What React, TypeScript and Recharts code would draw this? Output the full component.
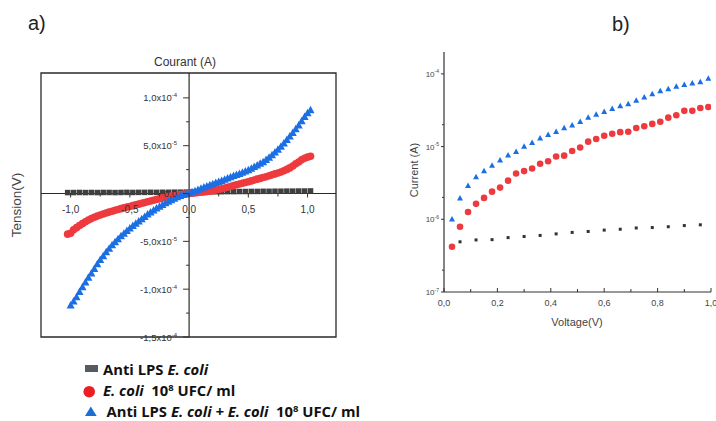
import React from 'react';
import { ScatterChart, Scatter, XAxis, YAxis, ReferenceLine, ReferenceArea } from 'recharts';

// ---------------- Panel a) : I-V sweep (values of current in units of 1e-5 A) ----------------
const sweepV = [
  -1.025, -1, -0.975, -0.95, -0.925, -0.9, -0.875, -0.85, -0.825, -0.8,
  -0.775, -0.75, -0.725, -0.7, -0.675, -0.65, -0.625, -0.6, -0.575, -0.55,
  -0.525, -0.5, -0.475, -0.45, -0.425, -0.4, -0.375, -0.35, -0.325, -0.3,
  -0.275, -0.25, -0.225, -0.2, -0.175, -0.15, -0.125, -0.1, -0.075, -0.05,
  -0.025, 0, 0.025, 0.05, 0.075, 0.1, 0.125, 0.15, 0.175, 0.2,
  0.225, 0.25, 0.275, 0.3, 0.325, 0.35, 0.375, 0.4, 0.425, 0.45,
  0.475, 0.5, 0.525, 0.55, 0.575, 0.6, 0.625, 0.65, 0.675, 0.7,
  0.725, 0.75, 0.775, 0.8, 0.825, 0.85, 0.875, 0.9, 0.925, 0.95,
  0.975, 1, 1.025,
];
const redSweep = [
  -4.25, -4.15, -3.8, -3.57, -3.35, -3.15, -2.95, -2.78, -2.62, -2.48,
  -2.36, -2.25, -2.14, -2.04, -1.94, -1.85, -1.76, -1.67, -1.58, -1.5,
  -1.42, -1.35, -1.27, -1.19, -1.11, -1.03, -0.95, -0.86, -0.78, -0.7,
  -0.62, -0.54, -0.46, -0.39, -0.32, -0.26, -0.2, -0.15, -0.11, -0.07,
  -0.03, 0, 0.03, 0.06, 0.1, 0.13, 0.17, 0.2, 0.25, 0.3,
  0.36, 0.42, 0.5, 0.58, 0.66, 0.74, 0.83, 0.91, 1.0, 1.08,
  1.15, 1.23, 1.32, 1.42, 1.5, 1.58, 1.67, 1.76, 1.86, 1.95,
  2.05, 2.15, 2.25, 2.38, 2.52, 2.68, 2.88, 3.1, 3.3, 3.52,
  3.68, 3.8, 3.9,
];
const blueSweep = [
  null, -11.7, -11.3, -10.85, -10.3, -9.8, -9.3, -8.8, -8.35, -7.9,
  -7.4, -6.95, -6.55, -6.15, -5.78, -5.42, -5.1, -4.78, -4.48, -4.2,
  -3.92, -3.66, -3.4, -3.16, -2.92, -2.68, -2.45, -2.2, -1.98, -1.77,
  -1.57, -1.38, -1.2, -1.02, -0.85, -0.7, -0.55, -0.4, -0.27, -0.16,
  -0.07, 0.02, 0.12, 0.25, 0.37, 0.5, 0.62, 0.74, 0.86, 0.98,
  1.1, 1.2, 1.32, 1.45, 1.58, 1.7, 1.82, 1.93, 2.05, 2.18,
  2.3, 2.44, 2.6, 2.76, 2.93, 3.1, 3.28, 3.5, 3.74, 4.0,
  4.28, 4.58, 4.9, 5.24, 5.6, 5.96, 6.33, 6.72, 7.12, 7.55,
  8.0, 8.4, 8.7,
];
const blackSweepV = [
  -1.025, -0.975, -0.925, -0.875, -0.825, -0.775, -0.725, -0.675, -0.625, -0.575,
  -0.525, -0.475, -0.425, -0.375, -0.325, -0.275, -0.225, -0.175, -0.125, -0.075,
  -0.025, 0.025, 0.075, 0.125, 0.175, 0.225, 0.275, 0.325, 0.375, 0.425,
  0.475, 0.525, 0.575, 0.625, 0.675, 0.725, 0.775, 0.825, 0.875, 0.925,
  0.975, 1.025,
];
const blackSweep = [
  0.1, 0.1, 0.11, 0.1, 0.11, 0.1, 0.11, 0.11, 0.1, 0.11,
  0.12, 0.11, 0.12, 0.12, 0.13, 0.12, 0.13, 0.13, 0.14, 0.14,
  0.15, 0.16, 0.17, 0.17, 0.18, 0.18, 0.19, 0.2, 0.2, 0.21,
  0.21, 0.22, 0.22, 0.23, 0.23, 0.24, 0.24, 0.25, 0.25, 0.26,
  0.26, 0.27,
];
const xTicksA = [-1, -0.75, -0.5, -0.25, 0, 0.25, 0.5, 0.75, 1];
const yTicksA = [-1.5e-4, -1.25e-4, -1e-4, -7.5e-5, -5e-5, -2.5e-5, 0, 2.5e-5, 5e-5, 7.5e-5, 1e-4];

// ---------------- Panel b) : log current vs voltage ----------------
const voltsB = [
  0.03, 0.06, 0.09, 0.12, 0.15, 0.18, 0.21, 0.24, 0.27, 0.3,
  0.33, 0.36, 0.39, 0.42, 0.45, 0.48, 0.51, 0.54, 0.57, 0.6,
  0.63, 0.66, 0.69, 0.72, 0.75, 0.78, 0.81, 0.84, 0.87, 0.9,
  0.93, 0.96, 0.99,
];
const blueB = [
  1.0e-6, 1.95e-6, 2.9e-6, 3.8e-6, 4.6e-6, 5.5e-6, 6.5e-6, 7.6e-6, 8.5e-6, 1.0e-5,
  1.13e-5, 1.3e-5, 1.45e-5, 1.6e-5, 1.8e-5, 1.97e-5, 2.2e-5, 2.5e-5, 2.75e-5, 3.0e-5,
  3.3e-5, 3.6e-5, 3.85e-5, 4.3e-5, 4.75e-5, 5.3e-5, 5.8e-5, 6.2e-5, 6.7e-5, 7.1e-5,
  7.4e-5, 7.7e-5, 8.6e-5,
];
const redB = [
  4.2e-7, 7.9e-7, 1.26e-6, 1.63e-6, 1.97e-6, 2.4e-6, 2.73e-6, 3.4e-6, 4.27e-6, 4.6e-6,
  5.0e-6, 5.8e-6, 6.3e-6, 7.3e-6, 7.5e-6, 8.7e-6, 9.7e-6, 1.17e-5, 1.27e-5, 1.41e-5,
  1.5e-5, 1.58e-5, 1.6e-5, 1.8e-5, 1.9e-5, 2.05e-5, 2.2e-5, 2.5e-5, 2.7e-5, 3.1e-5,
  3.1e-5, 3.4e-5, 3.5e-5,
];
const blackVoltsB = [0.06, 0.12, 0.18, 0.24, 0.3, 0.36, 0.42, 0.48, 0.54, 0.6, 0.66, 0.72, 0.78, 0.84, 0.9, 0.96];
const blackB = [4.9e-7, 5.2e-7, 5.25e-7, 5.6e-7, 5.8e-7, 6.0e-7, 6.3e-7, 6.6e-7, 6.8e-7, 7.1e-7, 7.3e-7, 7.6e-7, 7.7e-7, 7.9e-7, 8.2e-7, 8.4e-7];
const xTicksB = [0, 0.1, 0.2, 0.3, 0.4, 0.5, 0.6, 0.7, 0.8, 0.9, 1];
const yTicksB = [1e-7, 2e-7, 1e-6, 2e-6, 1e-5, 2e-5, 1e-4];

// ---------------- layout ----------------
const FONT = '"Liberation Sans", Arial, sans-serif';
const BLUE = '#1c6fe3';
const RED = '#ee3a3e';
const DARK = '#3f3f3f';
const AX = 20; // reserved axis size

const A_LEFT = 41, A_RIGHT = 336, A_TOP = 73, A_BOTTOM = 337;
const A_XMIN = -1.25, A_XMAX = 1.24, A_YMIN = -1.5e-4, A_YMAX = 1.26e-4;
const A_ZERO_X = A_LEFT + ((A_RIGHT - A_LEFT) * (0 - A_XMIN)) / (A_XMAX - A_XMIN);
const A_ZERO_Y = A_TOP + ((A_BOTTOM - A_TOP) * A_YMAX) / (A_YMAX - A_YMIN);

const B_OFFSET = 380, B_LEFT = 444, B_RIGHT = 711, B_TOP = 52, B_BOTTOM = 292;

const dataRedA = sweepV.map((v, k) => ({ v, i: redSweep[k] * 1e-5 }));
const dataBlueA = sweepV
  .map((v, k) => ({ v, i: blueSweep[k] === null ? null : (blueSweep[k] as number) * 1e-5 }))
  .filter((d) => d.i !== null);
const dataBlackA = blackSweepV.map((v, k) => ({ v, i: blackSweep[k] * 1e-5 }));
const dataBlueB = voltsB.map((v, k) => ({ v, i: blueB[k] }));
const dataRedB = voltsB.map((v, k) => ({ v, i: redB[k] }));
const dataBlackB = blackVoltsB.map((v, k) => ({ v, i: blackB[k] }));

const comma = (n: number) => n.toFixed(1).replace('.', ',');

// ---------------- shapes ----------------
const squareShape = (size: number, color: string) => (p: any) => (
  <rect x={p.cx - size / 2} y={p.cy - size / 2} width={size} height={size} fill={color} />
);
const circleShape = (r: number, color: string) => (p: any) => <circle cx={p.cx} cy={p.cy} r={r} fill={color} />;
const triangleShape = (w: number, h: number, color: string) => (p: any) => (
  <polygon
    points={`${p.cx},${p.cy - h * 0.6} ${p.cx - w / 2},${p.cy + h * 0.4} ${p.cx + w / 2},${p.cy + h * 0.4}`}
    fill={color}
  />
);

// ---------------- ticks ----------------
const AXTick = (props: any) => {
  const { x, payload } = props;
  const v = payload.value as number;
  const major = Math.abs(v * 2 - Math.round(v * 2)) < 1e-6;
  return (
    <g>
      <line x1={x} x2={x} y1={A_ZERO_Y} y2={A_ZERO_Y + (major ? 4 : 3)} stroke="#333" strokeWidth={1} />
      {major && (
        <text x={x} y={A_ZERO_Y + 19} textAnchor="middle" fontSize={10} fontFamily={FONT} fill="#333">
          {comma(v)}
        </text>
      )}
    </g>
  );
};

const AYTick = (props: any) => {
  const { y, payload } = props;
  const v = payload.value as number;
  const major = Math.abs(v / 5e-5 - Math.round(v / 5e-5)) < 1e-6;
  let label: React.ReactNode = null;
  if (major) {
    if (Math.abs(v) < 1e-12) {
      label = '0,0';
    } else {
      const exp = Math.floor(Math.log10(Math.abs(v)) + 1e-9);
      const mant = v / Math.pow(10, exp);
      label = (
        <>
          {`${comma(mant)}x10`}
          <tspan dy={-4} fontSize={6}>{`${exp}`}</tspan>
        </>
      );
    }
  }
  return (
    <g>
      <line x1={A_ZERO_X - (major ? 6 : 3)} x2={A_ZERO_X} y1={y} y2={y} stroke="#333" strokeWidth={1} />
      {major && (
        <text x={A_ZERO_X - 12} y={y + 3.5} textAnchor="end" fontSize={9.5} fontFamily={FONT} fill="#333">
          {label}
        </text>
      )}
    </g>
  );
};

const BXTick = (props: any) => {
  const { x, payload } = props;
  const v = payload.value as number;
  const major = Math.abs(v * 5 - Math.round(v * 5)) < 1e-6;
  const yb = B_BOTTOM;
  return (
    <g>
      <line x1={x} x2={x} y1={yb} y2={yb - (major ? 4 : 3)} stroke="#333" strokeWidth={1} />
      {major && (
        <text x={x} y={yb + 14} textAnchor="middle" fontSize={9} fontFamily={FONT} fill="#444">
          {comma(v)}
        </text>
      )}
    </g>
  );
};

const BYTick = (props: any) => {
  const { y, payload } = props;
  const v = payload.value as number;
  const lg = Math.log10(v);
  const exp = Math.round(lg);
  const major = Math.abs(lg - exp) < 1e-6;
  const x0 = B_LEFT - B_OFFSET;
  return (
    <g>
      <line x1={x0 - (major ? 3 : 2)} x2={x0} y1={y} y2={y} stroke="#333" strokeWidth={1} />
      {major && (
        <text x={x0 - 5} y={y + 3} textAnchor="end" fontSize={8} fontFamily={FONT} fill="#444">
          10
          <tspan dy={-3.5} fontSize={5}>{`${exp}`}</tspan>
        </text>
      )}
    </g>
  );
};

export default function App() {
  return (
    <div style={{ position: 'absolute', left: 0, top: 0, width: 716, height: 421, background: '#fff', overflow: 'hidden' }}>
      {/* Panel a */}
      <div style={{ position: 'absolute', left: 0, top: 0 }}>
        <ScatterChart
          width={360}
          height={421}
          margin={{ left: A_LEFT - AX, top: A_TOP, right: 360 - A_RIGHT, bottom: 421 - A_BOTTOM - AX }}
        >
          <XAxis
            type="number"
            dataKey="v"
            domain={[A_XMIN, A_XMAX]}
            ticks={xTicksA}
            interval={0}
            height={AX}
            axisLine={false}
            tickLine={false}
            tick={<AXTick />}
            allowDataOverflow
          />
          <YAxis
            type="number"
            dataKey="i"
            domain={[A_YMIN, A_YMAX]}
            ticks={yTicksA}
            interval={0}
            width={AX}
            axisLine={false}
            tickLine={false}
            tick={<AYTick />}
            allowDataOverflow
          />
          <ReferenceArea
            x1={A_XMIN}
            x2={A_XMAX}
            y1={A_YMIN}
            y2={A_YMAX}
            fill="none"
            fillOpacity={0}
            stroke="#2a2a2a"
            strokeWidth={1.3}
            ifOverflow="visible"
          />
          <ReferenceLine x={0} stroke="#2a2a2a" strokeWidth={1.2} />
          <ReferenceLine y={0} stroke="#2a2a2a" strokeWidth={1.2} />
          <Scatter name="Anti LPS E. coli" data={dataBlackA} shape={squareShape(5.5, DARK)} isAnimationActive={false} />
          <Scatter name="E. coli 10^8 UFC/ ml" data={dataRedA} shape={circleShape(3.8, RED)} isAnimationActive={false} />
          <Scatter
            name="Anti LPS E. coli + E. coli 10^8 UFC/ ml"
            data={dataBlueA}
            shape={triangleShape(8, 7.5, BLUE)}
            isAnimationActive={false}
          />
        </ScatterChart>
      </div>

      {/* Panel b */}
      <div style={{ position: 'absolute', left: B_OFFSET, top: 0 }}>
        <ScatterChart
          width={716 - B_OFFSET}
          height={421}
          margin={{ left: B_LEFT - B_OFFSET - AX, top: B_TOP, right: 716 - B_RIGHT, bottom: 421 - B_BOTTOM - AX }}
        >
          <XAxis
            type="number"
            dataKey="v"
            domain={[0, 1]}
            ticks={xTicksB}
            interval={0}
            height={AX}
            axisLine={{ stroke: '#333', strokeWidth: 1.2 }}
            tickLine={false}
            tick={<BXTick />}
            allowDataOverflow
          />
          <YAxis
            type="number"
            dataKey="i"
            scale="log"
            domain={[1e-7, 2e-4]}
            ticks={yTicksB}
            interval={0}
            width={AX}
            axisLine={{ stroke: '#333', strokeWidth: 1.2 }}
            tickLine={false}
            tick={<BYTick />}
            allowDataOverflow
          />
          <Scatter name="Anti LPS E. coli" data={dataBlackB} shape={squareShape(3, '#333')} isAnimationActive={false} />
          <Scatter name="E. coli" data={dataRedB} shape={circleShape(3.3, RED)} isAnimationActive={false} />
          <Scatter name="Anti LPS E. coli + E. coli" data={dataBlueB} shape={triangleShape(6, 5.5, BLUE)} isAnimationActive={false} />
        </ScatterChart>
      </div>

      {/* Titles and legend */}
      <svg width={716} height={421} style={{ position: 'absolute', left: 0, top: 0, pointerEvents: 'none' }}>
        <g fontFamily={FONT} fill="#222">
          <text x={28} y={30} fontSize={20}>a)</text>
          <text x={612} y={31} fontSize={20}>b)</text>
          <text x={185} y={66} fontSize={12} textAnchor="middle" fill="#333">Courant (A)</text>
          <text x={21} y={205} fontSize={13.5} textAnchor="middle" fill="#444" transform="rotate(-90 21 205)">Tension(V)</text>
          <text x={418} y={170} fontSize={11} textAnchor="middle" fill="#444" transform="rotate(-90 418 170)">Current (A)</text>
          <text x={577} y={326} fontSize={11} textAnchor="middle" fill="#444">Voltage(V)</text>
        </g>
        <g fontFamily="'Open Sans', Lato, sans-serif" fontWeight="bold" fontSize={14.8} fill="#111" xmlSpace="preserve">
          <rect x={85} y={365} width={13} height={7} fill="#555b61" />
          <text x={103} y={374.5} xmlSpace="preserve">
            {'Anti LPS '}
            <tspan fontStyle="italic">E. coli</tspan>
          </text>
          <circle cx={89.2} cy={391.7} r={5.8} fill="#ee1d23" />
          <text x={103} y={395.5} xmlSpace="preserve">
            <tspan fontStyle="italic">E. coli</tspan>
            {'  10'}
            <tspan dy={-5} fontSize={9.5}>8</tspan>
            <tspan dy={5}>{' UFC/ ml'}</tspan>
          </text>
          <polygon points="85,416 96.7,416 90.8,406.5" fill="#1a6fd0" />
          <text x={106.5} y={416.5} xmlSpace="preserve">
            {'Anti LPS '}
            <tspan fontStyle="italic">E. coli + E. coli</tspan>
            {'  10'}
            <tspan dy={-5} fontSize={9.5}>8</tspan>
            <tspan dy={5}>{' UFC/ ml'}</tspan>
          </text>
        </g>
      </svg>
    </div>
  );
}
